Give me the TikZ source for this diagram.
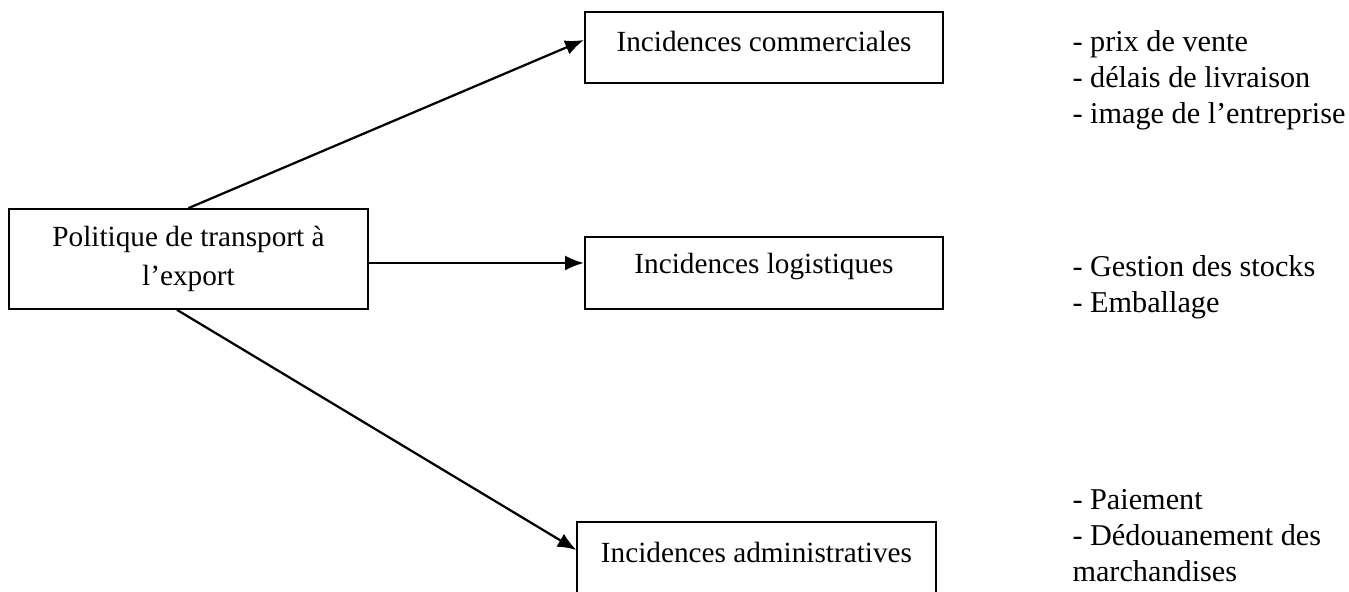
\documentclass[tikz,border=0pt]{standalone}
\usepackage{fontspec}
\setmainfont{Liberation Serif}
\usetikzlibrary{arrows.meta}
\tikzstyle{block} = [rectangle, draw, line width=0.7pt, minimum width=143.4pt, minimum height=28.6pt, inner sep=0pt]
\tikzstyle{source} = [rectangle, draw, line width=0.7pt, minimum width=143.6pt, minimum height=40pt, align=center, font=\fontsize{11.7}{15.6}\selectfont]
\tikzstyle{items} = [anchor=west, align=left, inner sep=0pt, font=\fontsize{12.1}{14.4}\selectfont]
\newcommand{\lift}[1]{\raisebox{2.4pt}[\height][\depth]{#1}}

\begin{document}
\begin{tikzpicture}[x=0.4pt, y=-0.4pt, >={Latex[length=7.5pt, width=6pt]}, font=\fontsize{11.7}{14.4}\selectfont]
        \useasboundingbox (0,0) rectangle (1349,592);

        \node[source] (politique) at (188.5,259) {Politique de transport à\\l’export};
        \node[block] (commerciales) at (764,47.5) {\lift{Incidences commerciales}};
        \node[block] (logistiques) at (764,273) {\lift{Incidences logistiques}};
        \node[block] (administratives) at (756.5,558) {\lift{Incidences administratives}};

        \node[items] (effetscom) at (1072,80) {- prix de vente\\- délais de livraison\\- image de l’entreprise};
        \node[items] (effetslog) at (1072,287) {- Gestion des stocks\\- Emballage};
        \node[items] (effetsadm) at (1072,536) {- Paiement\\- Dédouanement des\\marchandises};

        \draw[->, line width=0.9pt] (politique.north) -- ([yshift=3pt]commerciales.west);
        \draw[->, line width=0.9pt] ([yshift=-1.6pt]politique.east) -- ([yshift=-1.6pt]politique.east -| logistiques.west);
        \draw[->, line width=0.9pt] ([xshift=-4.6pt]politique.south) -- ([yshift=3.2pt]administratives.west);
    \end{tikzpicture}
\end{document}
